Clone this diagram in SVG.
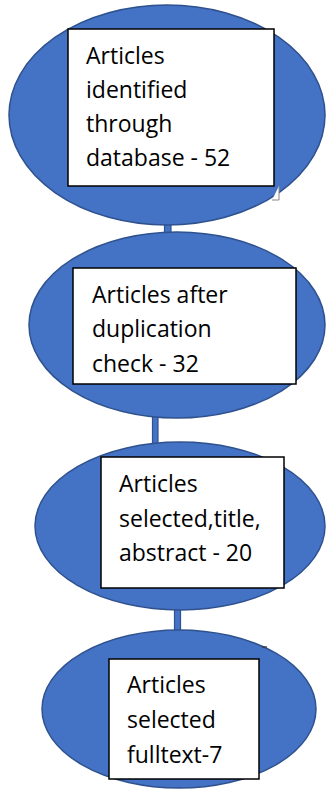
<svg xmlns="http://www.w3.org/2000/svg" width="326" height="789" viewBox="0 0 326 789">
<style>
.ell{fill:#4472C4;stroke:#2F528F;stroke-width:1.5}
.box{fill:#fff;stroke:#000;stroke-width:1.5}
.rod{fill:#4472C4;stroke:#2F528F;stroke-width:1.2}
.t{font-family:"Open Sans","Liberation Sans",sans-serif;font-size:23px;fill:#000}
</style>
<rect width="326" height="789" fill="#fff"/>
<g id="connectors">
<rect class="rod" x="164.5" y="199" width="6.5" height="34"/>
<rect class="rod" x="152.5" y="384" width="5.5" height="60"/>
<rect class="rod" x="174.5" y="588" width="6" height="44"/>
</g>
<g id="node1">
<ellipse class="ell" cx="167" cy="115" rx="158" ry="110"/>
<path d="M272,200H279V186" fill="#fff" stroke="#888" stroke-width="1"/>
<rect class="box" x="68" y="29" width="206" height="157"/>
<text class="t" x="86" y="64">Articles</text>
<text class="t" x="86" y="98">identified</text>
<text class="t" x="86" y="132">through</text>
<text class="t" x="86" y="166">database - 52</text>
</g>
<g id="node2">
<ellipse class="ell" cx="177" cy="325" rx="148" ry="93"/>
<rect class="box" x="73" y="268" width="223" height="116"/>
<text class="t" x="92" y="303">Articles after</text>
<text class="t" x="92" y="337">duplication</text>
<text class="t" x="92" y="372">check - 32</text>
</g>
<g id="node3">
<ellipse class="ell" cx="180" cy="526" rx="145" ry="84"/>
<rect class="box" x="101" y="457" width="183" height="131"/>
<text class="t" x="119" y="492">Articles</text>
<text class="t" x="119" y="527">selected,title,</text>
<text class="t" x="119" y="561">abstract - 20</text>
</g>
<g id="node4">
<ellipse class="ell" cx="179" cy="709" rx="137" ry="79"/>
<path d="M262,647H267" stroke="#333" stroke-width="1.2"/>
<rect class="box" x="109" y="659" width="150" height="120"/>
<text class="t" x="127" y="693">Articles</text>
<text class="t" x="127" y="728">selected</text>
<text class="t" x="127" y="763">fulltext-7</text>
</g>
</svg>
